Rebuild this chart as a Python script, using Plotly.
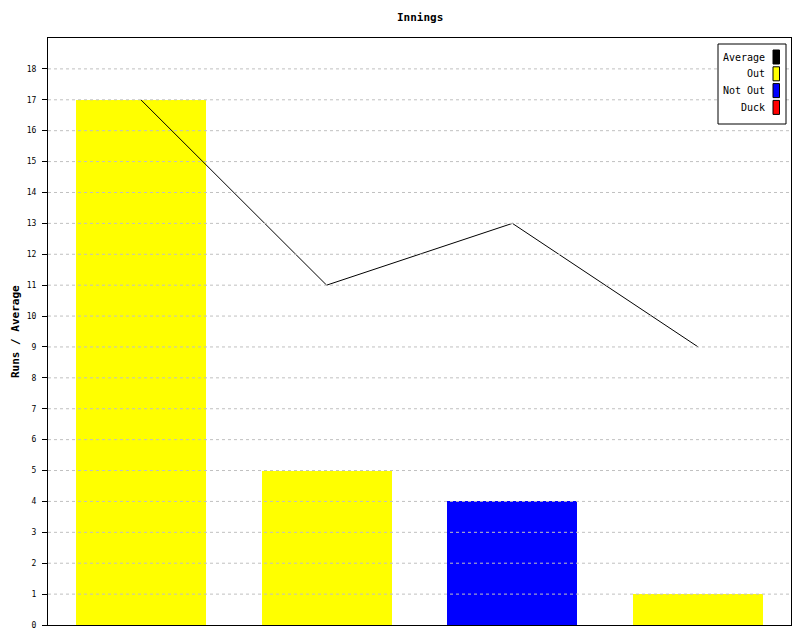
import plotly.graph_objects as go

# ---- data ----
innings = [1, 2, 3, 4]
out_runs = [17, 5, 0, 1]
not_out_runs = [0, 0, 4, 0]
duck_runs = [0, 0, 0, 0]
average = [17, 11, 13, 9]
y_ticks = list(range(0, 19))

legend_labels = ["Average", "Out", "Not Out", "Duck"]
legend_colors = ["#000000", "#ffff00", "#0000ff", "#ff0000"]

FONT = "DejaVu Sans Mono"
OX, OY = 8, 8  # page body offset
W, H = 800 - OX, 640 - OY
# plot area in screen pixels: x 48..791, y 38..625
SL, SR, ST, SB = 48, 791, 38, 625
L, T = SL - OX, ST - OY
R = W - (SR - OX)
B = H - (SB - OY)
PW, PH = SR - SL, SB - ST


def px(x):
    return (x - SL) / PW


def py(y):
    return (SB - y) / PH


fig = go.Figure()
fig.add_trace(go.Bar(x=innings, y=out_runs, marker=dict(color="#ffff00", line=dict(width=0)),
                     width=0.7, name="Out", showlegend=False))
fig.add_trace(go.Bar(x=innings, y=not_out_runs, marker=dict(color="#0000ff", line=dict(width=0)),
                     width=0.7, name="Not Out", showlegend=False))
fig.add_trace(go.Bar(x=innings, y=duck_runs, marker=dict(color="#ff0000", line=dict(width=0)),
                     width=0.7, name="Duck", showlegend=False))
fig.add_trace(go.Scatter(x=innings, y=average, mode="lines", line=dict(color="#000000", width=1),
                         name="Average", showlegend=False))

shapes = []
# dashed gridlines on top of bars
for v in y_ticks[1:]:
    shapes.append(dict(type="line", xref="paper", yref="y", x0=0, x1=1, y0=v, y1=v,
                       line=dict(color="#c0c0c0", width=1, dash="3px,3px"), layer="above"))

# custom legend box
shapes.append(dict(type="rect", xref="paper", yref="paper", x0=px(718), x1=px(786),
                   y0=py(124), y1=py(44), line=dict(color="#000000", width=1),
                   fillcolor="#ffffff", layer="above"))
annotations = []
for i, (lab, col) in enumerate(zip(legend_labels, legend_colors)):
    cy = 57 + i * 16.8
    shapes.append(dict(type="rect", xref="paper", yref="paper", x0=px(773), x1=px(779.5),
                       y0=py(cy + 7), y1=py(cy - 7), line=dict(color="#000000", width=1),
                       fillcolor=col, layer="above"))
    annotations.append(dict(xref="paper", yref="paper", x=px(767), y=py(cy), text=lab,
                            showarrow=False, xanchor="right", yanchor="middle",
                            font=dict(family=FONT, size=10, color="#000000")))

# y-axis title as annotation
annotations.append(dict(xref="paper", yref="paper", x=px(16), y=py(332), text="<b>Runs / Average</b>",
                        textangle=-90, showarrow=False, xanchor="center", yanchor="middle",
                        font=dict(family=FONT, size=11, color="#000000")))
# chart title
annotations.append(dict(xref="paper", yref="paper", x=px((SL + SR) / 2), y=py(17),
                        text="<b>Innings</b>", showarrow=False, xanchor="center", yanchor="middle",
                        font=dict(family=FONT, size=11, color="#000000")))

fig.update_layout(
    width=W, height=H,
    margin=dict(l=L, r=R, t=T, b=B, pad=0, autoexpand=False),
    paper_bgcolor="#ffffff", plot_bgcolor="#ffffff",
    barmode="stack", bargap=0.3,
    showlegend=False,
    shapes=shapes, annotations=annotations,
    font=dict(family=FONT, color="#000000"),
)
fig.update_xaxes(range=[0.5, 4.5], showticklabels=False, ticks="", showgrid=False,
                 zeroline=False, showline=True, linecolor="#000000", linewidth=1, mirror=True,
                 automargin=False)
fig.update_yaxes(range=[0, 19], tickvals=y_ticks, ticks="outside", ticklen=5, tickwidth=1,
                 tickcolor="#000000", tickfont=dict(family=FONT, size=8, color="#000000"),
                 showgrid=False, zeroline=False, showline=True, linecolor="#000000",
                 linewidth=1, mirror=True, ticklabelstandoff=4, automargin=False)

fig.write_html("out.html")
